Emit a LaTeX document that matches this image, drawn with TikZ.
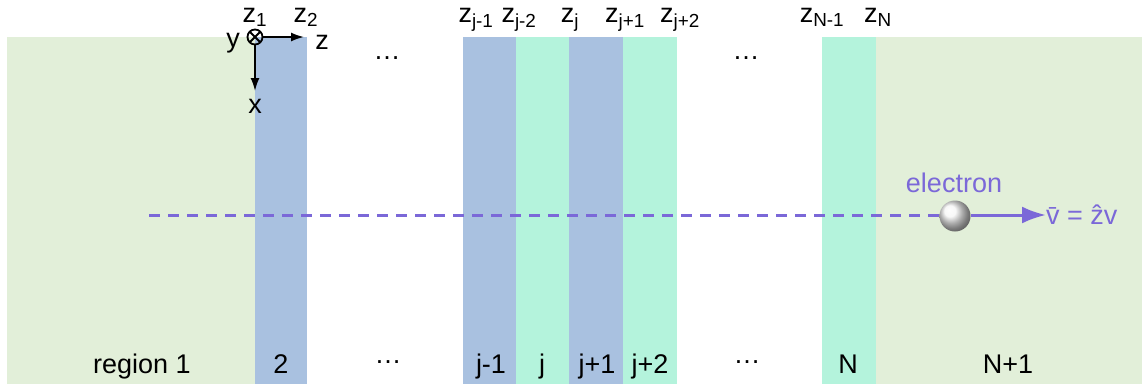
\documentclass[tikz,border=0pt]{standalone}
\usepackage{fontspec}
\setmainfont{Liberation Sans}
\usetikzlibrary{arrows.meta}
\definecolor{regiongreen}{RGB}{226,239,217}
\definecolor{layerblue}{RGB}{169,193,224}
\definecolor{layermint}{RGB}{180,243,220}
\definecolor{beampurple}{RGB}{123,104,216}

\begin{document}
\begin{tikzpicture}[
    x=1pt,
    y=-1pt,
    every node/.style={font=\fontsize{27}{30}\selectfont, inner sep=0pt, outer sep=0pt},
    slab/.style={anchor=north west, minimum height=347pt},
    zlabel/.style={anchor=base},
    reglabel/.style={anchor=base},
    axis/.style={line width=1.8pt, -{Latex[length=13pt, width=9pt]}},
    beam/.style={beampurple, line width=3pt},
    >=Latex
]
    \useasboundingbox (0,0) rectangle (1142,388);

    % slabs
    \node[slab, fill=regiongreen, minimum width=248pt] (reg1) at (7,37) {};
    \node[slab, fill=layerblue, minimum width=52pt] (reg2) at (255,37) {};
    \node[slab, fill=layerblue, minimum width=53pt] (regjm) at (463,37) {};
    \node[slab, fill=layermint, minimum width=53pt] (regj) at (516,37) {};
    \node[slab, fill=layerblue, minimum width=54pt] (regjp) at (569,37) {};
    \node[slab, fill=layermint, minimum width=54pt] (regjpp) at (623,37) {};
    \node[slab, fill=layermint, minimum width=54pt] (regN) at (822,37) {};
    \node[slab, fill=regiongreen, minimum width=266pt] (regNp) at (876,37) {};

    % interface labels
    \node[zlabel] (z1) at (255,22) {z\textsubscript{1}};
    \node[zlabel] (z2) at (306,22) {z\textsubscript{2}};
    \node[zlabel] (zjm) at (476,22) {z\textsubscript{j-1}};
    \node[zlabel] (zjmm) at (519,22) {z\textsubscript{j-2}};
    \node[zlabel] (zj) at (570,22) {z\textsubscript{j}};
    \node[zlabel] (zjp) at (625,22) {z\textsubscript{j+1}};
    \node[zlabel] (zjpp) at (680,22) {z\textsubscript{j+2}};
    \node[zlabel] (zNm) at (822,22) {z\textsubscript{N-1}};
    \node[zlabel] (zN) at (878,22) {z\textsubscript{N}};
    \node (dotsa) at (387,58) {\dots};
    \node (dotsb) at (746,58) {\dots};

    % coordinate axes
    \node[draw, circle, line width=1.8pt, minimum size=15pt] (orig) at (255,37) {};
    \draw[line width=1.8pt] (orig.north east) -- (orig.south west);
    \draw[line width=1.8pt] (orig.north west) -- (orig.south east);
    \coordinate (zend) at (304,37);
    \coordinate (xend) at (255,91);
    \draw[axis] (orig.east) -- (zend);
    \draw[axis] (orig.south) -- (xend);
    \node[anchor=base] (ylab) at (233,47) {y};
    \node[anchor=base] (zlab) at (322,49) {z};
    \node[anchor=base] (xlab) at (255,113) {x};

    % electron
    \coordinate (beamstart) at (149,215);
    \node[circle, minimum size=31pt, shading=ball, ball color=white!92!gray] (elec) at (955,216) {};
    \node[anchor=base, text=beampurple] (eleclab) at (954,192) {electron};
    \node[anchor=west, text=beampurple] (vlab) at (1046,215) {\=v = \^zv};
    \draw[beam, dash pattern=on 11pt off 8pt] (beamstart) -- (elec.west |- beamstart);
    \draw[beam, -{Latex[length=24pt, width=17pt]}] (elec.east |- beamstart) -- (vlab.west);

    % region labels
    \node[reglabel] (lab1) at (142,373) {region 1};
    \node[reglabel] (lab2) at (281,373) {2};
    \node (dotsc) at (388,362) {\dots};
    \node[reglabel] (labjm) at (491,373) {j-1};
    \node[reglabel] (labj) at (542,373) {j};
    \node[reglabel] (labjp) at (597,373) {j+1};
    \node[reglabel] (labjpp) at (650,373) {j+2};
    \node (dotsd) at (747,362) {\dots};
    \node[reglabel] (labN) at (848,373) {N};
    \node[reglabel] (labNp) at (1008,373) {N+1};
\end{tikzpicture}
\end{document}
